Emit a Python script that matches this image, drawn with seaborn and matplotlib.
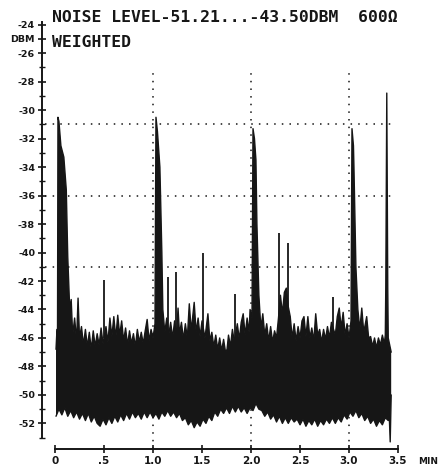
import numpy as np
import matplotlib
matplotlib.use("Agg")
import matplotlib.pyplot as plt
import seaborn as sns

# upper edge of the trace (minutes, dBm), the five big peaks included
top_t = [0.01, 0.02, 0.025,
         0.03, 0.04, 0.06, 0.09, 0.115, 0.13, 0.15,
         0.165, 0.18, 0.20, 0.22, 0.235, 0.25, 0.27, 0.29, 0.31, 0.33, 0.35, 0.37, 0.39,
         0.41, 0.43, 0.45, 0.47, 0.49, 0.52, 0.54, 0.56, 0.58, 0.60, 0.62, 0.64, 0.66,
         0.68, 0.70, 0.72, 0.74, 0.76, 0.78, 0.80, 0.82, 0.84, 0.86, 0.88, 0.90, 0.92,
         0.94, 0.96, 0.98, 1.00, 1.02,
         1.03, 1.045, 1.07, 1.09, 1.10,
         1.12, 1.14, 1.16, 1.18, 1.20, 1.22, 1.24, 1.255, 1.27, 1.29, 1.31, 1.33, 1.35,
         1.37, 1.39, 1.42, 1.44, 1.46, 1.48, 1.50, 1.53, 1.56, 1.58, 1.60, 1.62, 1.64,
         1.66, 1.68, 1.70, 1.72, 1.74, 1.755, 1.77, 1.79, 1.81, 1.83, 1.86, 1.88, 1.90,
         1.92, 1.94, 1.96, 1.98, 1.99, 2.01,
         2.02, 2.035, 2.05, 2.06, 2.08,
         2.10, 2.12, 2.14, 2.16, 2.18, 2.20, 2.22, 2.24, 2.26, 2.28, 2.30, 2.32, 2.34,
         2.36, 2.38, 2.40, 2.42, 2.44, 2.46, 2.48, 2.50, 2.52, 2.54, 2.56, 2.58, 2.60,
         2.62, 2.64, 2.66, 2.68, 2.70, 2.72, 2.74, 2.76, 2.78, 2.80, 2.82, 2.86, 2.88,
         2.90, 2.92, 2.94, 2.96, 2.98, 3.00, 3.02,
         3.03, 3.045, 3.05, 3.07, 3.09,
         3.11, 3.13, 3.15, 3.18, 3.20, 3.22, 3.24, 3.26, 3.28, 3.30, 3.32, 3.34, 3.36,
         3.37, 3.375, 3.385, 3.395, 3.40, 3.43]
top_db = [-46.8, -45.4, -47.0,
          -30.5, -30.8, -32.5, -33.3, -35.6, -40.3, -44.0,
          -43.3, -45.8, -44.6, -46.2, -43.2, -46.0, -45.2, -46.5, -45.4, -46.6, -45.6, -46.8, -45.5,
          -46.6, -45.7, -46.5, -45.3, -46.4, -45.2, -46.3, -44.6, -45.9, -44.5, -46.0, -44.4, -45.8,
          -44.8, -46.2, -45.3, -46.5, -45.5, -46.4, -45.7, -46.6, -45.4, -46.3, -45.6, -46.4, -45.5,
          -44.7, -46.2, -45.4, -46.0, -45.0,
          -30.5, -31.5, -34.0, -40.0, -44.0,
          -45.6, -44.6, -45.8, -44.9, -46.0, -44.8, -45.9, -43.9, -45.7, -44.9, -46.1, -45.0, -46.0,
          -43.6, -45.5, -43.5, -45.6, -44.6, -45.9, -44.8, -46.0, -44.3, -46.2, -45.6, -46.6, -45.8,
          -46.8, -46.0, -46.9, -46.1, -47.0, -46.8, -45.8, -46.6, -45.4, -46.3, -45.0, -46.1, -44.9,
          -44.3, -45.8, -44.6, -45.6, -44.0, -44.6,
          -31.3, -32.0, -33.5, -38.0, -43.0,
          -45.3, -44.3, -45.8, -45.0, -46.2, -45.2, -46.3, -45.5, -46.0, -44.6, -43.0, -44.3, -42.8,
          -42.5, -43.8, -44.5, -46.0, -45.0, -46.2, -45.2, -46.0, -44.8, -44.5, -45.9, -44.5, -46.0,
          -45.3, -46.2, -44.3, -45.8, -45.4, -46.3, -45.4, -46.1, -45.2, -46.0, -44.9, -45.8, -44.5,
          -43.9, -45.3, -44.2, -45.8, -45.0, -46.0, -44.8,
          -31.3, -32.5, -34.0, -41.0, -44.0,
          -45.4, -43.9, -45.6, -44.5, -46.0, -45.9, -46.6, -46.0, -46.7, -46.0, -46.5, -45.8, -46.4,
          -45.8, -42.3, -28.8, -42.5, -46.0, -47.0]

# lower edge of the trace
bot_t = [0.01, 0.04, 0.07, 0.10, 0.13, 0.16, 0.19, 0.22, 0.25, 0.28, 0.31, 0.34, 0.37,
         0.40, 0.43, 0.46, 0.49, 0.52, 0.55, 0.58, 0.61, 0.64, 0.67, 0.70, 0.73, 0.76,
         0.79, 0.82, 0.85, 0.88, 0.91, 0.94, 0.97, 1.00, 1.03, 1.06, 1.09, 1.12, 1.15,
         1.18, 1.21, 1.24, 1.27, 1.30, 1.33, 1.36, 1.39, 1.42, 1.45, 1.48, 1.51, 1.54,
         1.57, 1.60, 1.63, 1.66, 1.69, 1.72, 1.75, 1.78, 1.81, 1.84, 1.87, 1.90, 1.93,
         1.96, 1.99, 2.02, 2.05, 2.08, 2.11, 2.14, 2.17, 2.20, 2.23, 2.26, 2.29, 2.32,
         2.35, 2.38, 2.41, 2.44, 2.47, 2.50, 2.53, 2.56, 2.59, 2.62, 2.65, 2.68, 2.71,
         2.74, 2.77, 2.80, 2.83, 2.86, 2.89, 2.92, 2.95, 2.98, 3.01, 3.04, 3.07, 3.10,
         3.13, 3.16, 3.19, 3.22, 3.25, 3.28, 3.31, 3.34, 3.37, 3.40, 3.41, 3.42, 3.43]
bot_db = [-51.5, -51.0, -51.4, -50.9, -51.5, -51.1, -51.6, -51.2, -51.7, -51.3, -51.8, -51.3, -51.9,
          -51.5, -52.0, -52.2, -51.7, -52.1, -51.6, -52.0, -51.5, -51.9, -51.4, -51.8, -51.3, -51.7,
          -51.2, -51.6, -51.3, -51.7, -51.2, -51.6, -51.2, -51.6, -51.3, -51.7, -51.2, -51.5, -51.1,
          -51.5, -51.2, -51.6, -51.3, -51.8, -51.6, -52.1, -51.8, -52.3, -51.9, -52.2, -51.7, -52.0,
          -51.5, -51.8, -51.2, -51.5, -51.0, -51.3, -50.9, -51.3, -50.8, -51.2, -50.8, -51.2, -50.9,
          -51.3, -50.9, -51.1, -50.6, -51.0, -51.1, -51.5, -51.2, -51.7, -51.4, -51.9, -51.5, -52.0,
          -51.6, -52.0, -51.6, -51.9, -51.7, -52.1, -51.7, -52.2, -51.8, -52.1, -51.7, -52.2, -51.8,
          -52.1, -51.7, -52.0, -51.6, -52.0, -51.6, -51.9, -51.4, -51.7, -51.2, -51.5, -51.1, -51.6,
          -51.3, -51.8, -51.5, -52.0, -51.7, -52.2, -51.8, -52.1, -51.6, -51.8, -51.4, -53.3, -50.0]

# isolated thin spikes above the noise band
spike_t = [0.5, 1.15, 1.23, 1.51, 1.84, 2.29, 2.38, 2.84]
spike_db = [-41.9, -41.7, -41.4, -40.0, -42.9, -38.6, -39.3, -43.1]

grid_x = [1.0, 2.0, 3.0]
grid_y = [-31, -36, -41]
x_ticks = [0, 0.5, 1.0, 1.5, 2.0, 2.5, 3.0, 3.5]
x_labels = ["0", ".5", "1.0", "1.5", "2.0", "2.5", "3.0", "3.5"]
y_ticks = list(range(-52, -23, 2)) + [-25]

title1 = "NOISE LEVEL-51.21...-43.50DBM  600\u03a9"
title2 = "WEIGHTED"

ink = "#161616"

sns.set_style("white")
plt.rcParams["font.family"] = ["DejaVu Sans"]

fig = plt.figure(figsize=(4.42, 4.72), dpi=100)
ax = fig.add_axes([0.095, 0.0487, 0.81, 0.914])

# noise band
poly_t = top_t + bot_t[::-1]
poly_db = top_db + bot_db[::-1]
ax.fill(poly_t, poly_db, color=ink, lw=0, zorder=3)
sns.lineplot(x=top_t, y=top_db, sort=False, estimator=None, color=ink, lw=1.0, ax=ax, zorder=4)
sns.lineplot(x=bot_t, y=bot_db, sort=False, estimator=None, color=ink, lw=1.0, ax=ax, zorder=4)
ax.vlines(spike_t, -46, spike_db, color=ink, lw=1.3, zorder=4)

# dotted grid
ax.vlines(grid_x, -53.8, -27.2, color=ink, lw=1.1, linestyles=[(0, (1, 4))], zorder=2)
ax.hlines(grid_y, -0.1, 3.48, color=ink, lw=1.1, linestyles=[(0, (1, 4))], zorder=2)

ax.set_xlim(-0.133, 3.52)
ax.set_ylim(-53.8, -23.5)
for s in ["top", "right"]:
    ax.spines[s].set_visible(False)
ax.spines["left"].set_bounds(-53, -23.8)
ax.spines["bottom"].set_bounds(0, 3.5)
for s in ["left", "bottom"]:
    ax.spines[s].set_linewidth(1.4)
    ax.spines[s].set_color(ink)

ax.set_xticks(x_ticks)
ax.set_xticklabels(x_labels, fontsize=7.5, fontweight="bold", color=ink)
ax.set_yticks(y_ticks)
ax.set_yticklabels(["DBM" if v == -25 else str(v) for v in y_ticks],
                   fontsize=6.8, fontweight="bold", color=ink)
ax.set_yticks(list(range(-53, -23)), minor=True)
ax.tick_params(axis="both", which="both", left=True, bottom=True)
ax.tick_params(axis="both", which="major", direction="inout", length=6, width=1.2, color=ink, pad=2)
ax.tick_params(axis="y", which="minor", direction="inout", length=4, width=1.0, color=ink)
ax.grid(False)

ax.text(3.7, -54.7, "MIN", fontsize=6.5, fontweight="bold", color=ink, ha="left", va="center",
        clip_on=False)

fig.text(0.118, 0.962, title1, family="DejaVu Sans Mono", fontsize=11.8, fontweight="bold",
         color=ink, ha="left", va="center")
fig.text(0.118, 0.909, title2, family="DejaVu Sans Mono", fontsize=11.8, fontweight="bold",
         color=ink, ha="left", va="center")

fig.savefig("out.png", dpi=100)
